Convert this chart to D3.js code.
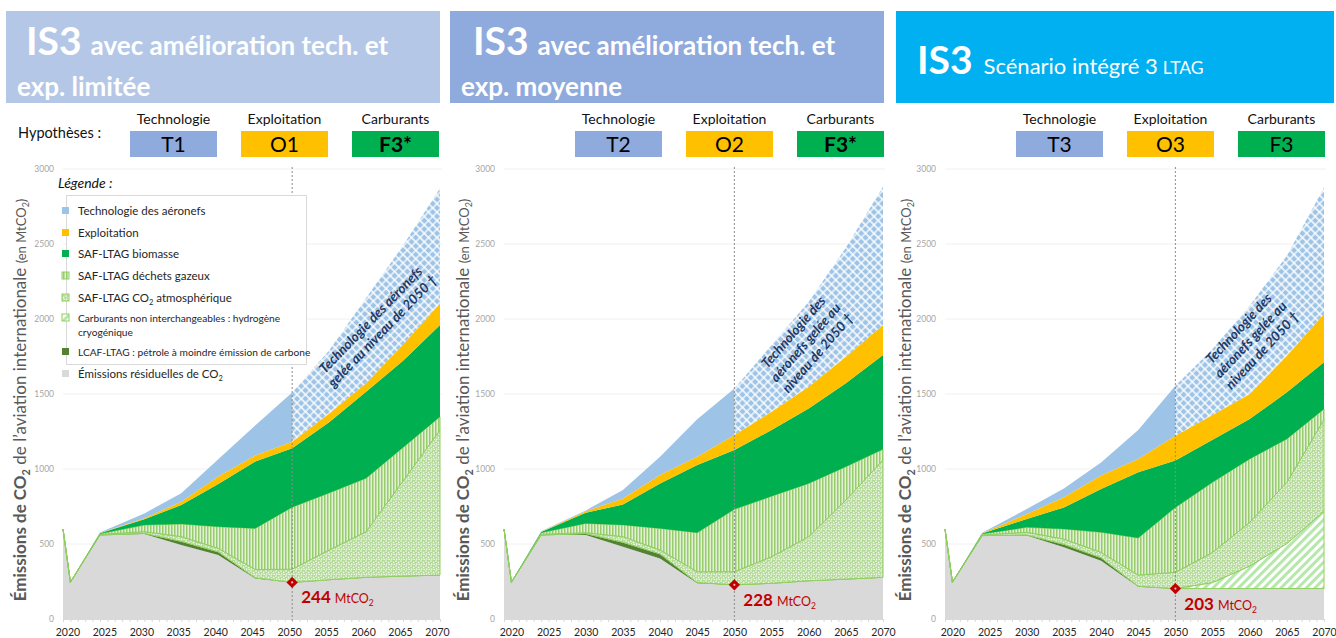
<!DOCTYPE html>
<html>
<head>
<meta charset="utf-8">
<script src="https://cdn.jsdelivr.net/npm/d3@7"></script>
<style>
  body { margin: 0; background: #fff; }
  svg { display: block; font-family: Lato, "Open Sans", sans-serif; }
</style>
</head>
<body>
<svg id="chart"></svg>
<script>
// Émissions de CO2 de l'aviation internationale, trois variantes du scénario IS3 (MtCO2)

const years = [2019, 2020, 2024, 2030, 2035, 2040, 2045, 2050, 2055, 2060, 2065, 2070];
const xTicks = [2020, 2025, 2030, 2035, 2040, 2045, 2050, 2055, 2060, 2065, 2070];
const yTicks = [0, 500, 1000, 1500, 2000, 2500, 3000];

// panneau A : T1 / O1 / F3*
const residualA     = [600, 245, 560, 566, 493, 426, 270, 244, 262, 278, 286, 293];
const lcafA         = [0, 0, 0, 5, 25, 22, 5, 0, 0, 0, 0, 0];
const hydrogenA     = [0, 0, 0, 0, 0, 0, 0, 0, 0, 0, 0, 0];
const co2atmA       = [0, 0, 4, 11, 31, 23, 55, 88, 198, 304, 634, 967];
const dechetsA      = [0, 0, 4, 44, 84, 144, 274, 413, 380, 356, 224, 89];
const biomasseA     = [0, 0, 3, 39, 127, 285, 446, 393, 471, 577, 578, 611];
const exploitationA = [0, 0, 2, 6, 22, 50, 40, 44, 59, 56, 108, 144];
const technoA       = [0, 0, 3, 33, 56, 115, 200, 328, 420, 569, 660, 767];

// panneau B : T2 / O2 / F3*
const residualB     = [600, 245, 560, 560, 482, 404, 238, 228, 238, 255, 266, 278];
const lcafB         = [0, 0, 0, 10, 30, 30, 5, 0, 0, 0, 0, 0];
const hydrogenB     = [0, 0, 0, 0, 0, 0, 0, 0, 0, 0, 0, 0];
const co2atmB       = [0, 0, 5, 5, 37, 26, 72, 87, 177, 294, 527, 782];
const dechetsB      = [0, 0, 10, 62, 78, 144, 260, 416, 403, 355, 222, 71];
const biomasseB     = [0, 0, 5, 71, 137, 300, 451, 395, 442, 500, 556, 629];
const exploitationB = [0, 0, 2, 11, 40, 56, 56, 101, 122, 145, 178, 200];
const technoB       = [0, 0, 3, 5, 56, 122, 250, 310, 444, 566, 726, 922];

// panneau C : T3 / O3 / F3
const residualC     = [600, 245, 556, 556, 478, 389, 215, 203, 203, 203, 203, 203];
const lcafC         = [0, 0, 0, 5, 20, 20, 3, 0, 0, 0, 0, 0];
const hydrogenC     = [0, 0, 0, 0, 0, 0, 0, 0, 40, 150, 300, 515];
const co2atmC       = [0, 0, 4, 17, 35, 35, 75, 108, 201, 291, 408, 612];
const dechetsC      = [0, 0, 7, 33, 67, 134, 247, 433, 467, 423, 289, 70];
const biomasseC     = [0, 0, 3, 56, 144, 289, 438, 312, 284, 266, 311, 311];
const exploitationC = [0, 0, 2, 33, 67, 89, 89, 166, 165, 167, 244, 322];
const technoC       = [0, 0, 3, 33, 59, 88, 193, 333, 440, 589, 667, 844];

const residual2050 = [244, 228, 203];

const headerLine1 = ["avec amélioration tech. et", "avec amélioration tech. et", "Scénario intégré 3"];
const headerLine2 = ["exp. limitée", "exp. moyenne", ""];
const techCodes = ["T1", "T2", "T3"];
const expCodes = ["O1", "O2", "O3"];
const fuelCodes = ["F3*", "F3*", "F3"];
const noteA = ["Technologie des aéronefs", "gelée au niveau de 2050 †"];
const noteBC = ["Technologie des", "aéronefs gelée au", "niveau de 2050 †"];

const legendLabels = [
  ["Technologie des aéronefs"],
  ["Exploitation"],
  ["SAF-LTAG biomasse"],
  ["SAF-LTAG déchets gazeux"],
  ["SAF-LTAG CO|2| atmosphérique"],
  ["Carburants non interchangeables : hydrogène", "cryogénique"],
  ["LCAF-LTAG : pétrole à moindre émission de carbone"],
  ["Émissions résiduelles de CO|2|"]
];

const keys = ["residual", "lcaf", "hydrogen", "co2atm", "dechets", "biomasse", "exploitation", "techno"];

const svg = d3.select("#chart").attr("width", 1336).attr("height", 638);
const defs = svg.append("defs");

// motifs
const vstripes = defs.append("pattern").attr("id", "vstripes")
  .attr("patternUnits", "userSpaceOnUse").attr("width", 3).attr("height", 10);
vstripes.append("rect").attr("width", 3).attr("height", 10).attr("fill", "#e2f1d6");
vstripes.append("rect").attr("width", 1.5).attr("height", 10).attr("fill", "#96cc6c");

const dots = defs.append("pattern").attr("id", "dots")
  .attr("patternUnits", "userSpaceOnUse").attr("width", 5).attr("height", 5);
dots.append("rect").attr("width", 5).attr("height", 5).attr("fill", "#b2d996");
[[1, 1], [3.6, 2.4], [1.6, 4], [4.2, 4.6]].forEach(([cx, cy]) =>
  dots.append("circle").attr("cx", cx).attr("cy", cy).attr("r", 0.85).attr("fill", "#f4fbef"));

const hatchH = defs.append("pattern").attr("id", "hatchH")
  .attr("patternUnits", "userSpaceOnUse").attr("width", 6).attr("height", 6)
  .attr("patternTransform", "rotate(45)");
hatchH.append("rect").attr("width", 6).attr("height", 6).attr("fill", "#ffffff");
hatchH.append("rect").attr("width", 3).attr("height", 6).attr("fill", "#b6e8ab");

const xhatch = defs.append("pattern").attr("id", "xhatch")
  .attr("patternUnits", "userSpaceOnUse").attr("width", 6).attr("height", 6)
  .attr("patternTransform", "rotate(45)");
xhatch.append("rect").attr("width", 6).attr("height", 6).attr("fill", "#9dc3e6");
xhatch.append("path").attr("d", "M0,3H6M3,0V6").attr("stroke", "#fff").attr("stroke-width", 1.3);

const fills = {
  residual: "#d9d9d9", lcaf: "#548235", hydrogen: "url(#hatchH)", co2atm: "url(#dots)",
  dechets: "url(#vstripes)", biomasse: "#00b050", exploitation: "#ffc000", techno: "#9dc3e6"
};
const outlined = ["hydrogen", "co2atm", "dechets"];

const panels = [
  { dx: 0, x0: 63, x1: 440, header: "#b4c7e7", hx: [6, 440], is3x: 26,
    data: [residualA, lcafA, hydrogenA, co2atmA, dechetsA, biomasseA, exploitationA, technoA],
    note: noteA, noteAt: [377, 326], noteAngle: -46, titleX: 20 },
  { dx: 445, x0: 504, x1: 883, header: "#8faadc", hx: [450, 884], is3x: 473,
    data: [residualB, lcafB, hydrogenB, co2atmB, dechetsB, biomasseB, exploitationB, technoB],
    note: noteBC, noteAt: [806, 343], noteAngle: -49, titleX: 463 },
  { dx: 886, x0: 945, x1: 1324, header: "#00b0f0", hx: [896, 1334], is3x: 917,
    data: [residualC, lcafC, hydrogenC, co2atmC, dechetsC, biomasseC, exploitationC, technoC],
    note: noteBC, noteAt: [1251, 340], noteAngle: -47, titleX: 905 }
];

function addSub(text, str, size, subSize) {
  // "CO|2| ..." -> tspans avec indices
  str.split("|").forEach((part, i) => {
    if (!part) return;
    if (i % 2 === 1) {
      text.append("tspan").attr("font-size", subSize).attr("dy", subSize * 0.35).text(part);
    } else {
      text.append("tspan").attr("font-size", size).attr("dy", i > 0 ? -subSize * 0.35 : 0).text(part);
    }
  });
}

const y = d3.scaleLinear().domain([0, 3000]).range([619, 169]);

panels.forEach((p, i) => {
  const x = d3.scaleLinear().domain([2019, 2070]).range([p.x0, p.x1]);
  const g = svg.append("g");

  // en-tête
  g.append("rect").attr("x", p.hx[0]).attr("y", 11).attr("width", p.hx[1] - p.hx[0]).attr("height", 92)
    .attr("fill", p.header);
  if (i < 2) {
    const t = g.append("text").attr("x", p.is3x).attr("y", 55).attr("fill", "#fff").attr("font-weight", 700);
    t.append("tspan").attr("font-size", 39).text("IS3");
    t.append("tspan").attr("font-size", 26).attr("dx", 9).text(headerLine1[i]);
    g.append("text").attr("x", p.hx[0] + 11).attr("y", 96).attr("fill", "#fff").attr("font-weight", 700)
      .attr("font-size", 26).text(headerLine2[i]);
  } else {
    const t = g.append("text").attr("x", p.is3x).attr("y", 74).attr("fill", "#fff");
    t.append("tspan").attr("font-size", 39).attr("font-weight", 700).text("IS3");
    t.append("tspan").attr("font-size", 22).attr("dx", 11).text(headerLine1[i]);
    t.append("tspan").attr("font-size", 17.5).attr("dx", 5).text("LTAG");
  }

  // hypothèses
  const boxes = [["Technologie", techCodes[i], "#8faadc", 130, 400],
                 ["Exploitation", expCodes[i], "#ffc000", 241, 400],
                 ["Carburants", fuelCodes[i], "#00b050", 352, i < 2 ? 700 : 400]];
  boxes.forEach(([lab, code, col, bx, fw]) => {
    const bxx = bx + p.dx;
    g.append("text").attr("x", bxx + 43.5).attr("y", 124).attr("text-anchor", "middle")
      .attr("font-size", 14).attr("fill", "#111").text(lab);
    g.append("rect").attr("x", bxx).attr("y", 131).attr("width", 87).attr("height", 26).attr("fill", col);
    g.append("text").attr("x", bxx + 43.5).attr("y", 152).attr("text-anchor", "middle")
      .attr("font-size", 21).attr("font-weight", fw).attr("fill", "#000").text(code);
  });
  if (i === 0) {
    g.append("text").attr("x", 18).attr("y", 138).attr("font-size", 14.5).attr("fill", "#111")
      .text("Hypothèses :");
  }

  // grille
  g.append("g").selectAll("line").data(yTicks.filter(v => v > 0)).join("line")
    .attr("x1", p.x0).attr("x2", p.x1 + 2).attr("y1", d => y(d)).attr("y2", d => y(d))
    .attr("stroke", "#f0f0f0").attr("stroke-width", 1);

  // aires empilées
  const rows = years.map((yr, j) => {
    const r = { year: yr };
    keys.forEach((k, n) => r[k] = p.data[n][j]);
    return r;
  });
  const series = d3.stack().keys(keys)(rows);
  const area = d3.area().x(d => x(d.data.year)).y0(d => y(d[0])).y1(d => y(d[1]));
  const x2050 = x(2050);

  defs.append("clipPath").attr("id", "before" + i).append("rect")
    .attr("x", p.x0 - 5).attr("y", 0).attr("width", x2050 - p.x0 + 5).attr("height", 638);
  defs.append("clipPath").attr("id", "after" + i).append("rect")
    .attr("x", x2050).attr("y", 0).attr("width", p.x1 - x2050 + 5).attr("height", 638);

  series.forEach(s => {
    if (s.key === "techno") {
      g.append("path").attr("d", area(s)).attr("fill", fills.techno).attr("clip-path", `url(#before${i})`);
      g.append("path").attr("d", area(s)).attr("fill", "url(#xhatch)").attr("clip-path", `url(#after${i})`);
    } else {
      g.append("path").attr("d", area(s)).attr("fill", fills[s.key])
        .attr("stroke", outlined.includes(s.key) ? "#8fcf5f" : "none")
        .attr("stroke-width", outlined.includes(s.key) ? 1 : 0)
        .attr("stroke-linejoin", "round");
    }
  });

  // axes
  const yAxis = g.append("g").attr("transform", `translate(${p.x0},0)`)
    .call(d3.axisLeft(y).tickValues(yTicks).tickFormat(d3.format("d")).tickSize(0).tickPadding(9));
  yAxis.select(".domain").remove();
  yAxis.selectAll("text").attr("fill", "#a6a6a6").attr("font-size", 8.5).attr("font-family", "Lato, sans-serif");

  const minor = g.append("g").attr("transform", `translate(0,${y(0)})`)
    .call(d3.axisBottom(x).tickValues(d3.range(2019, 2071)).tickSize(3).tickFormat(""));
  minor.selectAll("line").attr("stroke", "#d9d9d9");
  minor.select(".domain").attr("stroke", "#d9d9d9");
  const xAxis = g.append("g").attr("transform", `translate(0,${y(0)})`)
    .call(d3.axisBottom(x).tickValues(xTicks).tickFormat(d3.format("d")).tickSize(0).tickPadding(10));
  xAxis.select(".domain").remove();
  xAxis.selectAll("text").attr("fill", "#262626").attr("font-size", 10.5)
    .attr("font-family", "Lato, sans-serif").attr("dx", i === 0 ? -3 : 0);

  // titre de l'axe Y
  const yt = g.append("text").attr("transform", `translate(${p.titleX},${400}) rotate(-90)`)
    .attr("text-anchor", "middle").attr("fill", "#595959").attr("dy", 6);
  yt.append("tspan").attr("font-size", 17).attr("font-weight", 700).text("Émissions de CO");
  yt.append("tspan").attr("font-size", 11).attr("font-weight", 700).attr("dy", 4).text("2");
  yt.append("tspan").attr("font-size", 17).attr("dy", -4).text(" de l’aviation internationale ");
  yt.append("tspan").attr("font-size", 13).text("(en MtCO");
  yt.append("tspan").attr("font-size", 9).attr("dy", 3).text("2");
  yt.append("tspan").attr("font-size", 13).attr("dy", -3).text(")");

  // repère 2050
  g.append("line").attr("x1", x2050).attr("x2", x2050).attr("y1", y(3000) - 2).attr("y2", y(0) + 3)
    .attr("stroke", "#8c8c8c").attr("stroke-dasharray", "2,2").attr("stroke-width", 1);
  g.append("path").attr("d", d3.symbol(d3.symbolSquare, 64)())
    .attr("transform", `translate(${x2050},${y(residual2050[i])}) rotate(45)`).attr("fill", "#c00000");
  g.append("circle").attr("cx", x2050).attr("cy", y(residual2050[i])).attr("r", 1.1).attr("fill", "#ffb3b3");
  const lab = g.append("text").attr("x", x2050 + 9).attr("y", y(residual2050[i]) + 21).attr("fill", "#c00000");
  lab.append("tspan").attr("font-size", 17).attr("font-weight", 700).text(residual2050[i]);
  lab.append("tspan").attr("font-size", 12.5).attr("dx", 4).text("MtCO");
  lab.append("tspan").attr("font-size", 8.5).attr("dy", 3).text("2");

  // annotation technologie gelée
  const nt = g.append("text").attr("transform", `translate(${p.noteAt[0]},${p.noteAt[1]}) rotate(${p.noteAngle})`)
    .attr("text-anchor", "middle").attr("fill", "#1f3864").attr("font-size", 13.5)
    .attr("font-weight", 700).attr("font-style", "italic");
  const lh = 16;
  p.note.forEach((line, n) => {
    nt.append("tspan").attr("x", 0).attr("y", (n - (p.note.length - 1) / 2) * lh + 4).text(line);
  });
});

// légende (panneau A)
const lg = svg.append("g");
lg.append("text").attr("x", 58).attr("y", 188).attr("font-size", 14).attr("font-style", "italic")
  .attr("fill", "#111").text("Légende :");
lg.append("rect").attr("x", 66.5).attr("y", 195.5).attr("width", 240).attr("height", 169)
  .attr("fill", "#fff").attr("stroke", "#d9d9d9");
const legendKeys = ["techno", "exploitation", "biomasse", "dechets", "co2atm", "hydrogen", "lcaf", "residual"];
const legendY = [212, 234, 255, 277, 299, 319, 353, 375];
legendKeys.forEach((k, n) => {
  const ly = legendY[n];
  lg.append("rect").attr("x", 62).attr("y", ly - 5).attr("width", 7).attr("height", 7)
    .attr("fill", fills[k])
    .attr("stroke", outlined.includes(k) ? "#8fcf5f" : "none");
  const lines = legendLabels[n];
  const small = lines[0].length > 30;
  lines.forEach((line, m) => {
    const t = lg.append("text").attr("x", 78).attr("y", ly + 3 + m * 14).attr("fill", "#262626");
    addSub(t, line, small ? 10.2 : 11.5, 7.5);
  });
});
</script>
</body>
</html>
